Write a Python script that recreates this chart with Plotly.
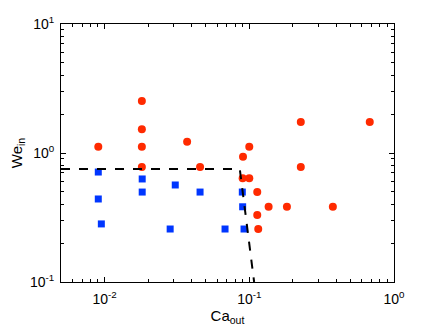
import plotly.graph_objects as go

# Data
red_ca = [0.00905, 0.0181, 0.0181, 0.0181, 0.0181, 0.0372, 0.0457, 0.1, 0.0905, 0.09,
          0.1, 0.1135, 0.136, 0.182, 0.378, 0.1135, 0.1153, 0.227, 0.68, 0.227]
red_we = [1.12, 2.53, 1.53, 1.12, 0.779, 1.22, 0.779, 1.12, 0.936, 0.637,
          0.637, 0.498, 0.383, 0.383, 0.383, 0.331, 0.2575, 1.74, 1.74, 0.779]

blue_ca = [0.00905, 0.00905, 0.0095, 0.0182, 0.0182, 0.0308, 0.0457, 0.0284, 0.068,
           0.0895, 0.09, 0.092]
blue_we = [0.712, 0.44, 0.282, 0.629, 0.498, 0.565, 0.498, 0.2575, 0.2575,
           0.498, 0.383, 0.2575]

# dashed boundary
line_ca = [0.005, 0.086, 0.108]
line_we = [0.75, 0.75, 0.1]

x_ticks = [0.01, 0.1, 1]
x_labels = ['10<sup>-2</sup>', '10<sup>-1</sup>', '10<sup>0</sup>']
y_ticks = [0.1, 1, 10]
y_labels = ['10<sup>-1</sup>', '10<sup>0</sup>', '10<sup>1</sup>']

# minor ticks 2..9 in each decade
x_minor = [m * d for d in [0.001, 0.01, 0.1] for m in range(2, 10) if m * d > 0.0049]
y_minor = [m * d for d in [0.1, 1] for m in range(2, 10)]

fig = go.Figure()

fig.add_trace(go.Scatter(
    x=red_ca, y=red_we, mode='markers',
    marker=dict(symbol='circle', size=8, color='#ff2a00', line=dict(width=0))
))
fig.add_trace(go.Scatter(
    x=blue_ca, y=blue_we, mode='markers',
    marker=dict(symbol='square', size=7, color='#0036ff', line=dict(width=0))
))
fig.add_trace(go.Scatter(
    x=line_ca, y=line_we, mode='lines',
    line=dict(color='black', width=2, dash='dash')
))

axis_style = dict(
    type='log',
    automargin=False,
    showgrid=False,
    zeroline=False,
    showline=True,
    linecolor='black',
    linewidth=1,
    mirror='ticks',
    ticks='inside',
    ticklen=5,
    tickcolor='black',
    tickfont=dict(family='Liberation Sans', size=14, color='black'),
)

fig.update_layout(
    width=436,
    height=328,
    margin=dict(l=53, r=50, t=16, b=54),
    showlegend=False,
    paper_bgcolor='white',
    plot_bgcolor='white',
    font=dict(family='Liberation Sans', size=14, color='black'),
    xaxis=dict(axis_style, range=[-2.301, 0], tickvals=x_ticks, ticktext=x_labels,
               ticklabelstandoff=4,
               minor=dict(tickvals=x_minor, ticks='inside', ticklen=3, tickcolor='black'),
               title=dict(text='Ca<sub>out</sub>', font=dict(size=15), standoff=2)),
    yaxis=dict(axis_style, range=[-1, 1], tickvals=y_ticks, ticktext=y_labels,
               ticklabelstandoff=3,
               minor=dict(tickvals=y_minor, ticks='inside', ticklen=3, tickcolor='black'),
               title=dict(text='We<sub>in</sub>', font=dict(size=15), standoff=4)),
)

fig.write_html('out.html')
